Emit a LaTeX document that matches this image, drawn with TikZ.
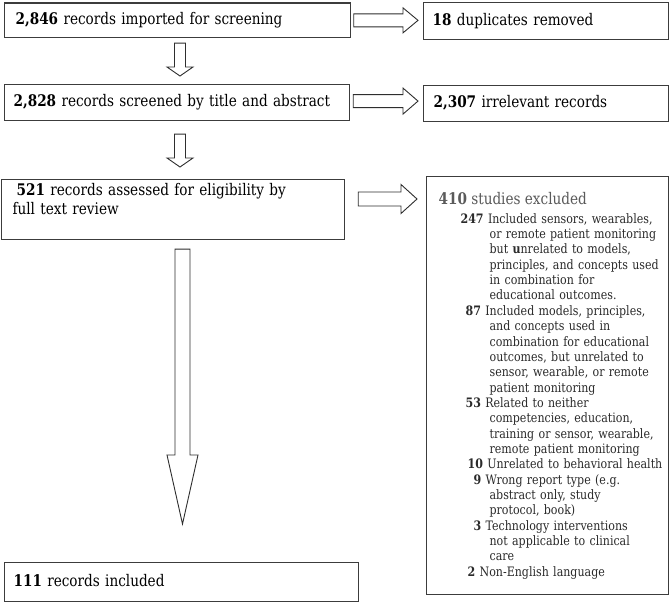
\documentclass[tikz,border=0pt]{standalone}
\usepackage{fontspec}
\setmainfont{DejaVu Serif}[FakeStretch=0.85]
\usetikzlibrary{calc}
\definecolor{bordc}{HTML}{3C3C3C}
\definecolor{arrc}{HTML}{2E2E2E}
\definecolor{headc}{HTML}{5A5A5A}
\definecolor{listc}{HTML}{2A2A2A}
% horizontal block arrow: #1 start, #2 tip, #3 shaft half, #4 head half, #5 head length
\newcommand\hblock[5]{\draw[blk] let \p1=#1, \p2=#2 in
  (\x1,\y1+#3) -- (\x2-#5,\y1+#3) -- (\x2-#5,\y1+#4) -- (\x2,\y1) -- (\x2-#5,\y1-#4) -- (\x2-#5,\y1-#3) -- (\x1,\y1-#3) -- cycle;}
% vertical block arrow: #1 top, #2 tip
\newcommand\vblock[5]{\draw[blk] let \p1=#1, \p2=#2 in
  (\x2-#3,\y1) -- (\x2-#3,\y2+#5) -- (\x2-#4,\y2+#5) -- (\x2,\y2) -- (\x2+#4,\y2+#5) -- (\x2+#3,\y2+#5) -- (\x2+#3,\y1) -- cycle;}
\newcommand\li[3]{\mbox{\hspace*{#1}\textbf{#2} #3}}
\newcommand\lc[1]{\mbox{\hspace*{51pt}#1}}
\tikzset{
  box/.style={draw=bordc, line width=1.2pt, anchor=north west, align=left, inner ysep=0pt,
    font=\fontsize{16}{19}\selectfont},
  single/.style={text height=12pt, text depth=4pt},
  blk/.style={draw=arrc, line width=0.9pt, fill=white, line join=miter},
}
\begin{document}
\begin{tikzpicture}[x=1pt,y=-1pt]
\useasboundingbox[fill=white] (0,0) rectangle (672,604);
\node[box, single, minimum height=34.5pt, inner xsep=11.5pt, text width=323pt] (b1) at (3.5,2.5)
  {\textbf{2,846} records imported for screening};
\node[box, single, minimum height=37pt, inner xsep=9pt, text width=227pt] (b2) at (423,2)
  {\textbf{18} duplicates removed};
\node[box, single, minimum height=36pt, inner xsep=9pt, text width=327pt] (b3) at (4,84)
  {\textbf{2,828} records screened by title and abstract};
\node[box, single, minimum height=36pt, inner xsep=10pt, text width=225pt] (b4) at (423,85)
  {\textbf{2,307} irrelevant records};
\node[box, minimum height=60pt, inner xsep=11pt, inner ysep=4pt, text width=321pt,
  text height=12pt, text depth=40pt] (b5) at (1,179)
  {\hspace*{4pt}\textbf{521} records assessed for eligibility by\\full text review};
\node[box, minimum height=418pt, inner xsep=12pt, text width=218pt,
  font=\color{listc}\fontsize{13}{15.35}\selectfont] (b6) at (426,176)
  {{\color{headc}\fontsize{16}{19}\selectfont\textbf{410} studies excluded}\\[3.65pt]
   \li{22pt}{247}{Included sensors, wearables,}\\
   \lc{or remote patient monitoring}\\
   \lc{but \textbf{u}nrelated to models,}\\
   \lc{principles, and concepts used}\\
   \lc{in combination for}\\
   \lc{educational outcomes.}\\
   \li{27pt}{87}{Included models, principles,}\\
   \lc{and concepts used in}\\
   \lc{combination for educational}\\
   \lc{outcomes, but unrelated to}\\
   \lc{sensor, wearable, or remote}\\
   \lc{patient monitoring}\\
   \li{27pt}{53}{Related to neither}\\
   \lc{competencies, education,}\\
   \lc{training or sensor, wearable,}\\
   \lc{remote patient monitoring}\\
   \li{29pt}{10}{Unrelated to behavioral health}\\
   \li{35pt}{9}{Wrong report type (e.g.}\\
   \lc{abstract only, study}\\
   \lc{protocol, book)}\\
   \li{35pt}{3}{Technology interventions}\\
   \lc{not applicable to clinical}\\
   \lc{care}\\
   \li{29pt}{2}{Non-English language}};
\node[box, single, minimum height=39pt, inner xsep=9pt, text width=336pt] (b7) at (4,562)
  {\textbf{111} records included};
% right block arrows
\hblock{($(b1.east)+(3,0)$)}{($(b2.west)+(-5,0)$)}{6.5pt}{12.5pt}{15pt}
\hblock{($(b3.east)+(3,-1.5)$)}{($(b4.west)+(-5,0)$)}{6.5pt}{13pt}{15pt}
\hblock{($(b5.north east)+(13,20)$)}{($(b6.west)+(-9,0)$)}{7pt}{14.5pt}{16pt}
% down block arrows
\vblock{($(b1.south west)+(176.5,5)$)}{($(b3.north west)+(176,-8)$)}{5.5pt}{13pt}{9pt}
\vblock{($(b3.south west)+(176,13)$)}{($(b5.north west)+(179,-12)$)}{5.5pt}{13pt}{9pt}
\vblock{($(b5.south west)+(181.5,9)$)}{($(b7.north west)+(178.5,-38)$)}{7.5pt}{15.5pt}{69pt}
\end{tikzpicture}
\end{document}
